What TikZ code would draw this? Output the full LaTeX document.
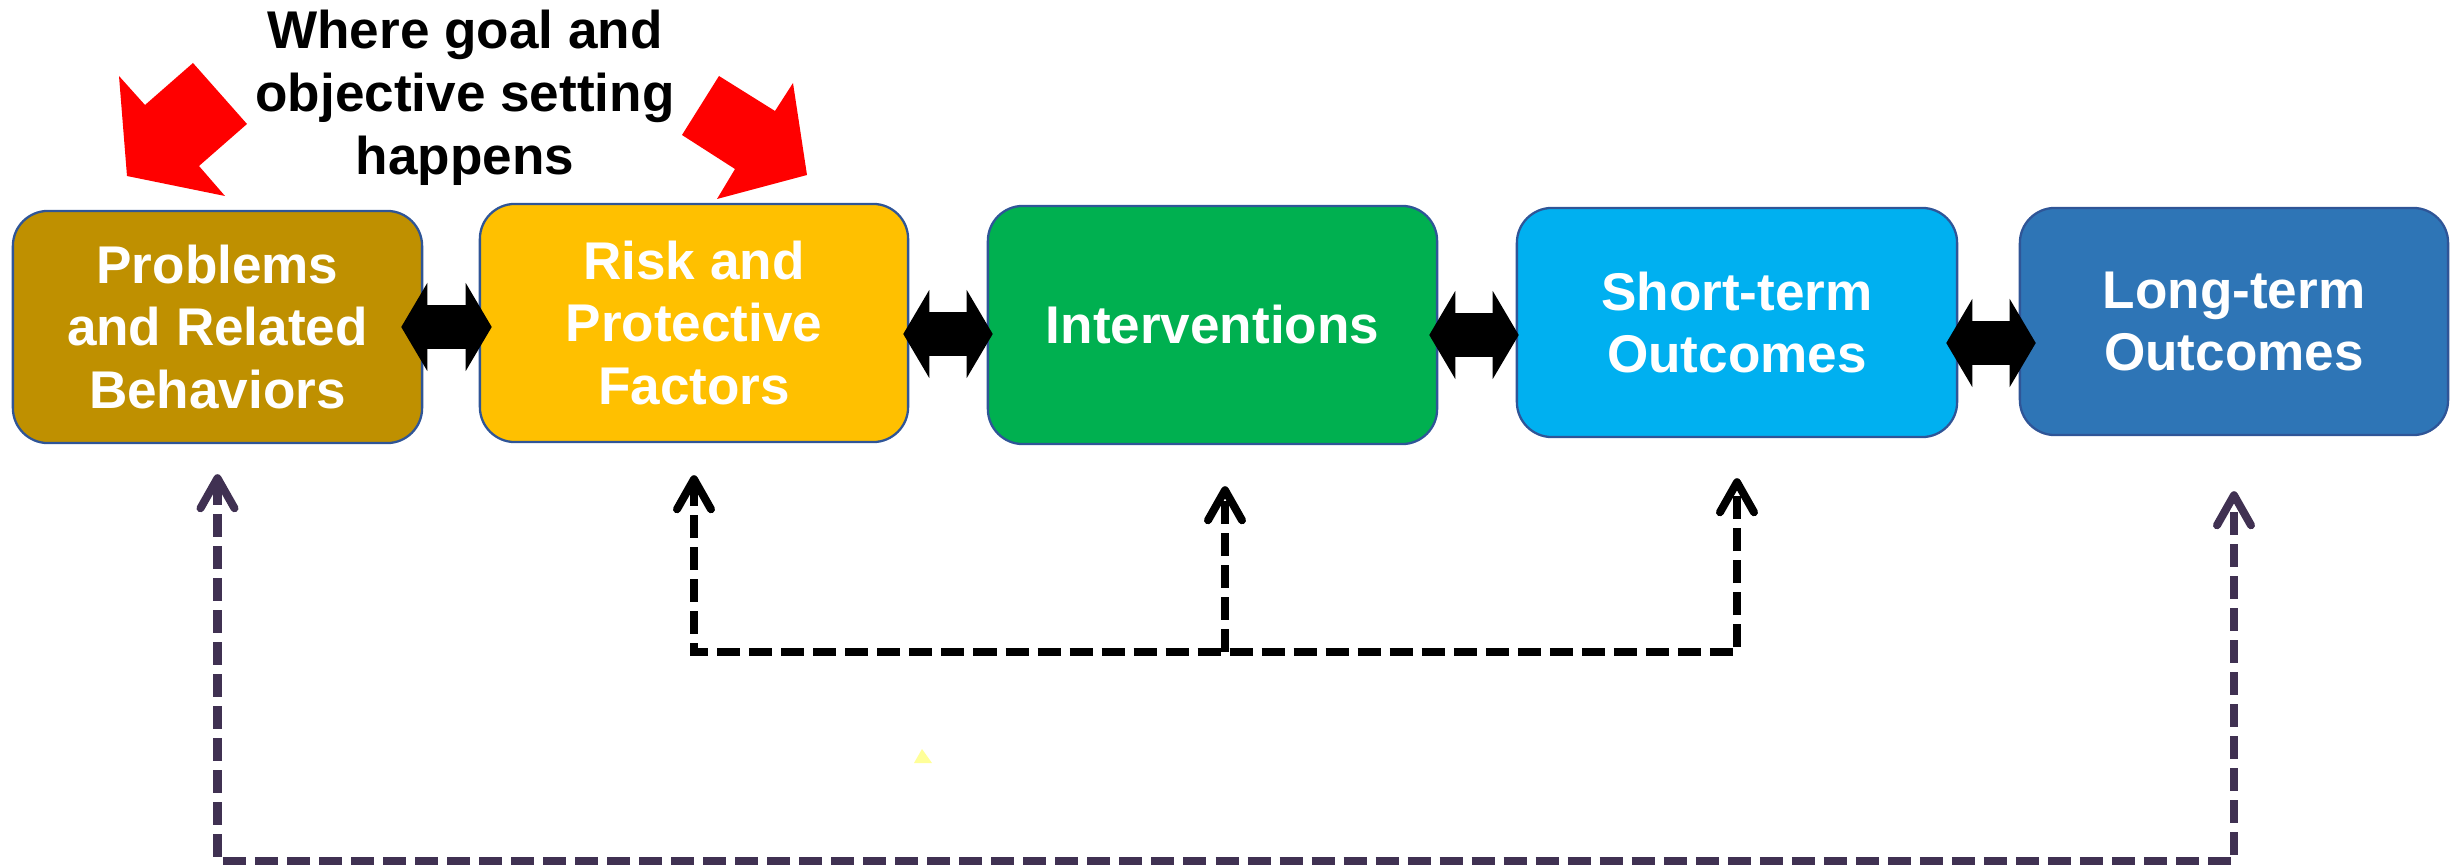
\documentclass[tikz,border=0pt]{standalone}
\usepackage{fontspec}
\setmainfont{Liberation Sans}
\usetikzlibrary{arrows.meta,calc,positioning}
\definecolor{probbrown}{RGB}{191,144,0}
\definecolor{riskyellow}{RGB}{255,192,0}
\definecolor{intgreen}{RGB}{0,176,80}
\definecolor{shortcyan}{RGB}{0,176,240}
\definecolor{longblue}{RGB}{46,117,182}
\definecolor{edgeblue}{RGB}{47,85,151}
\definecolor{loopviolet}{RGB}{64,49,82}
\definecolor{paleyellow}{RGB}{255,255,153}

\tikzset{
  stage/.style={rectangle, rounded corners=0.35cm, draw=edgeblue, line width=0.65pt,
    text=white, align=center, inner sep=0pt,
    font=\bfseries\fontsize{15.1}{17.9}\selectfont},
  blk/.tip={Triangle[length=0.26cm,width=0.88cm,line width=0pt]},
  vee/.tip={Straight Barb[length=0.3cm,width=0.34cm,round]},
  biarrow/.style={line width=0.43cm, arrows=blk-blk},
  loopline/.style={line width=0.08cm, dash pattern=on 0.23cm off 0.09cm}
}

\begin{document}
\begin{tikzpicture}[x=0.01cm, y=-0.01cm]
    \useasboundingbox (0,0) rectangle (2453,867);

    % Title and pointers
    \node[align=center, inner sep=0pt, font=\bfseries\fontsize{15.1}{17.9}\selectfont] (goal) at (465,98) {Where goal and\\objective setting\\happens};
    \fill[red] (119,76) -- (145,105) -- (193,63) -- (247,124) -- (199,166) -- (225,196) -- (127,176) -- cycle;
    \fill[red] (719,76) -- (775,111) -- (793,83) -- (807,175) -- (717,199) -- (735,169) -- (682,135) -- cycle;

    % Stages
    \node[stage, fill=probbrown, minimum width=4.09cm, minimum height=2.32cm] (pb) at (217.5,327) {Problems\\and Related\\Behaviors};
    \node[stage, fill=riskyellow, minimum width=4.28cm, minimum height=2.38cm] (rp) at (694,323) {Risk and\\Protective\\Factors};
    \node[stage, fill=intgreen, minimum width=4.49cm, minimum height=2.38cm] (iv) at (1212.5,325) {Interventions};
    \node[stage, fill=shortcyan, minimum width=4.40cm, minimum height=2.29cm] (st) at (1737,322.5) {Short-term\\Outcomes};
    \node[stage, fill=longblue, minimum width=4.28cm, minimum height=2.27cm] (lt) at (2234,321.5) {Long-term\\Outcomes};

    % Links between stages
    \foreach \a/\b/\y/\sl/\sr in {pb/rp/327/0.22/0.13, rp/iv/334/0.06/0.06, iv/st/335/0.09/0.03, st/lt/343/0.12/0.17} {
        \draw[biarrow, shorten <=-\sl cm, shorten >=-\sr cm] (\a.east |- 0,\y) -- (\b.west |- 0,\y);
    }

    % Feedback loops
    \coordinate (hub) at (1225,652);
    \coordinate (base) at (1225,861);
    \draw[loopline, arrows=vee-vee] ([yshift=-0.32cm]rp.south) |- (hub) -| ([yshift=-0.40cm]st.south);
    \draw[loopline, arrows=-vee] (hub) -- ([yshift=-0.41cm]iv.south -| hub);
    \draw[loopline, draw=loopviolet, arrows=vee-vee] ([yshift=-0.30cm]pb.south) |- (base) -| ([yshift=-0.55cm]lt.south);

    \fill[paleyellow] (922,749) -- (932,763) -- (914,763) -- cycle;
\end{tikzpicture}
\end{document}
